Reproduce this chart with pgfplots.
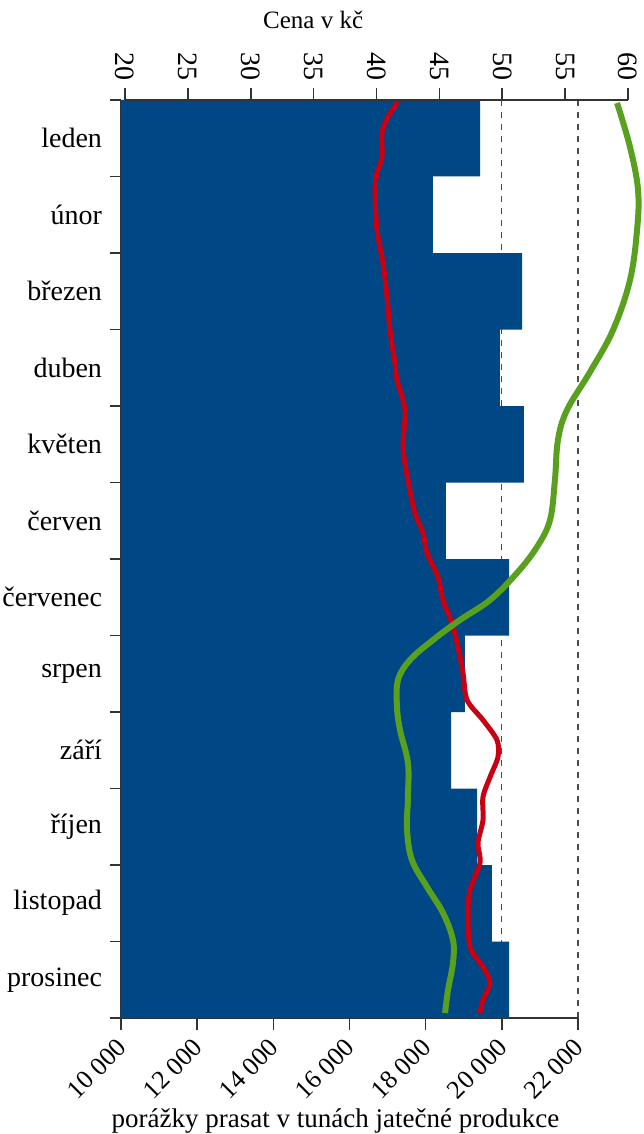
\documentclass[border=0pt]{standalone}
\usepackage{pgfplots}
\pgfplotsset{compat=1.18}
\usepackage{fontspec}
\setmainfont{Liberation Serif}
\definecolor{barblue}{RGB}{0,71,133}
\definecolor{lred}{RGB}{200,0,18}
\definecolor{lgreen}{RGB}{88,160,30}
\newcommand\tf{\fontsize{14}{16}\selectfont}
\begin{document}
\begin{tikzpicture}
\useasboundingbox (-60.5pt,-58pt) rectangle (261pt,509pt);
\begin{axis}[
 at={(0,0)}, anchor=south west,
 scale only axis, width=228.5pt, height=459pt,
 xmin=10000, xmax=22000, ymin=-0.5, ymax=11.5, y dir=reverse,
 axis x line*=bottom, axis y line*=left,
 scaled x ticks=false,
 xtick={10000,12000,...,22000},
 xticklabels={10 000,12 000,14 000,16 000,18 000,20 000,22 000},
 xticklabel style={rotate=45, anchor=east, yshift=-5pt, xshift=-1pt, font=\fontsize{13}{15}\selectfont},
 ytick={0,...,11},
 yticklabels={leden,únor,březen,duben,květen,červen,červenec,srpen,září,říjen,listopad,prosinec},
 yticklabel style={anchor=east, font=\tf},
 minor ytick={-0.5,0.5,...,11.5},
 tick align=outside,
 major tick length=6pt, minor tick length=5.5pt,
 major y tick style={draw=none},
 xmajorgrids, grid style={dashed, black!70, line width=0.6pt},
 xlabel={porážky prasat v tunách jatečné produkce},
 xlabel style={at={(axis description cs:0.5,0)}, anchor=center, yshift=-51.5pt, xshift=-7pt, font=\fontsize{13.5}{16}\selectfont},
 axis line style={line width=0.8pt, black!80},
 tick style={line width=0.8pt, black!80},
]
\addplot[xbar, bar width=1, bar shift=0pt, fill=barblue, draw=none] coordinates {
(19430,0) (18190,1) (20530,2) (19950,3) (20580,4) (18530,5)
(20190,6) (19030,7) (18670,8) (19350,9) (19740,10) (20190,11)};
\end{axis}
\begin{axis}[
 at={(2pt,0)}, anchor=south west,
 scale only axis, width=251.5pt, height=459pt,
 xmin=20, xmax=60, ymin=-0.5, ymax=11.5, y dir=reverse,
 axis x line*=top, hide y axis,
 xtick={20,25,...,60},
 xticklabels={20,25,30,35,40,45,50,55,60},
 xticklabel style={rotate=-90, anchor=east, font=\tf},
 tick align=outside, major tick length=6pt,
 axis line style={line width=0.8pt, black!80},
 tick style={line width=0.8pt, black!80},
 clip=false,
 xlabel={Cena v kč},
 xlabel style={at={(axis description cs:0.374,1)}, anchor=center, yshift=40pt, font=\fontsize{12.5}{15}\selectfont},
]
\addplot[lred, line width=2.5pt, smooth, tension=0.5] coordinates {
(41.71,-0.474) (40.91,-0.278) (40.44,-0.069) (40.44,0.245) (40.04,0.454)
(39.88,0.676) (40.04,1.199) (40.52,1.631) (40.84,2.075) (41.07,2.507)
(41.47,2.938) (41.63,3.160) (42.27,3.552) (42.11,4.036) (42.50,4.467)
(43.06,4.899) (43.70,5.160) (44.02,5.422) (44.89,5.735) (45.29,6.036)
(46.00,6.337) (46.48,6.650) (46.88,6.990) (47.20,7.343) (48.47,7.605)
(49.58,7.866) (49.66,8.088) (49.03,8.350) (48.47,8.611) (48.47,8.912)
(48.07,9.212) (48.23,9.474) (47.44,9.827) (47.28,10.127) (47.44,10.572)
(48.47,10.833) (49.03,11.042) (48.47,11.265) (48.23,11.435)};
\addplot[lgreen, line width=3pt, smooth, tension=0.6] coordinates {
(59.13,-0.461) (60.16,0.114) (60.80,0.676) (60.72,1.199) (60.16,1.853)
(58.81,2.507) (57.00,3.050) (55.15,3.552) (54.43,3.944)
(54.19,4.467) (53.80,4.990) (52.76,5.343) (51.17,5.683) (49.03,6.036)
(46.64,6.297) (44.49,6.559) (42.66,6.820) (41.71,7.082) (41.63,7.435)
(41.87,7.735) (42.50,8.167) (42.50,8.611) (42.43,9.042) (42.82,9.435)
(44.02,9.788) (45.29,10.127) (46.08,10.480) (46.08,10.781) (45.69,11.133)
(45.45,11.435)};
\end{axis}
\end{tikzpicture}
\end{document}
